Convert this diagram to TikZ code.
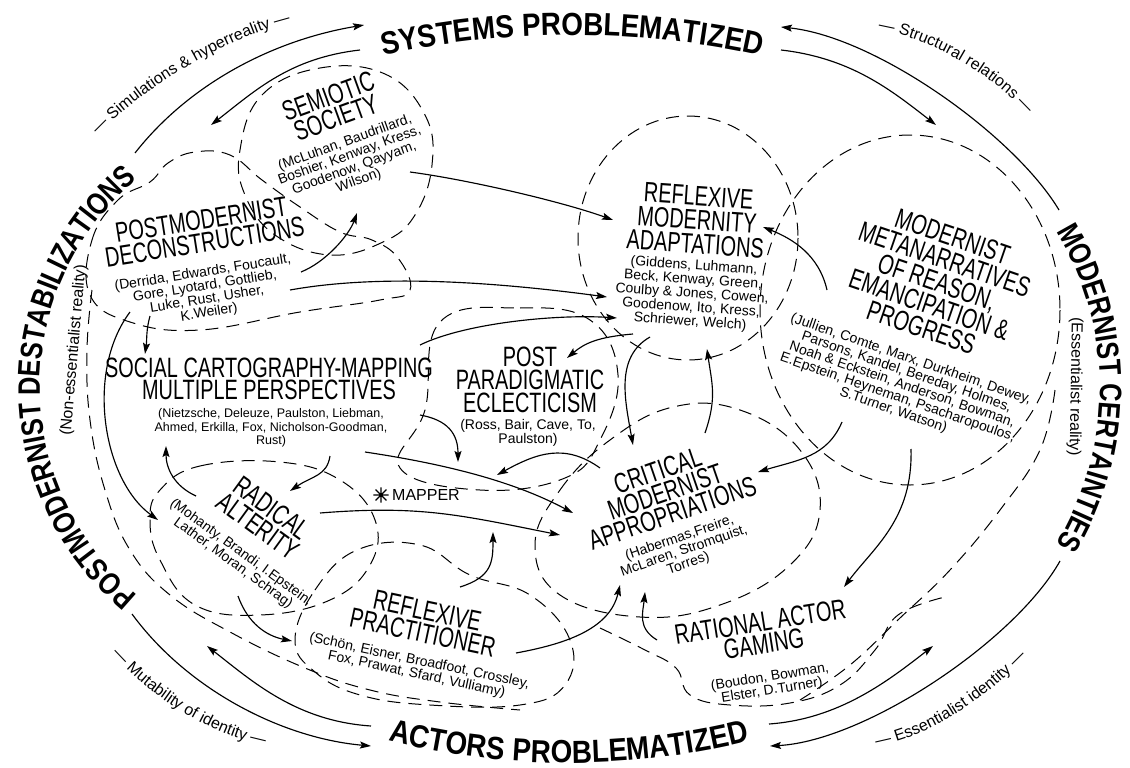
\documentclass[tikz,border=0pt]{standalone}
\usepackage{fontspec}
\setmainfont{Liberation Sans}
\newfontfamily\ringA[FakeStretch=0.87]{Liberation Sans}
\newfontfamily\ringB[FakeStretch=0.82]{Liberation Sans}
\newfontfamily\ttlfont[FakeStretch=0.71]{Liberation Sans}
\usetikzlibrary{decorations.text,arrows.meta}
\tikzset{
  ttl/.style={font=\ttlfont\fontsize{28}{22.5}\selectfont, align=center, inner sep=0pt},
  nms/.style={font=\fontsize{14}{13.5}\selectfont, align=center, inner sep=0pt},
  arr/.style={draw, line width=1.15pt, -{Stealth[length=11pt,width=7pt,inset=2pt]}},
  blob/.style={draw, line width=1pt, dash pattern=on 13pt off 8pt},
  ringtxt/.style={decorate, decoration={text along path, text align=center, text={#1}}}
}
\begin{document}
\begin{tikzpicture}[x=1pt,y=-1pt]
\useasboundingbox (0,0) rectangle (1130,768);

% ---------- big ring labels ----------
\path[ringtxt={|\ringA\bfseries\fontsize{32}{32}\selectfont|SYSTEMS PROBLEMATIZED}]
  (572,910) ++(245:875) arc[start angle=245, end angle=295, radius=875];
\path[ringtxt={|\ringA\bfseries\fontsize{32}{32}\selectfont|ACTORS PROBLEMATIZED}]
  (569,16) ++(115:747) arc[start angle=115, end angle=65, radius=747];
\path[ringtxt={|\ringB\bfseries\fontsize{31}{31}\selectfont|POSTMODERNIST DESTABILIZATIONS}]
  (310,387) ++(120:270) arc[start angle=120, end angle=240, radius=270];
\path[ringtxt={|\ringB\bfseries\fontsize{31}{31}\selectfont|MODERNIST CERTAINTIES}]
  (799,388) ++(-35:301) arc[start angle=-35, end angle=35, radius=301];

% ---------- small ring labels ----------
\coordinate (t1a) at (88,146);  \coordinate (t1b) at (305,19);
\coordinate (t2a) at (865,28);  \coordinate (t2b) at (1036,124);
\coordinate (t3a) at (102,642); \coordinate (t3b) at (280,748);
\coordinate (t4a) at (862,748); \coordinate (t4b) at (1036,646);
\path[ringtxt={|\fontsize{16}{16}\selectfont|— Simulations {\&} hyperreality —}]
  (t1a) .. controls +(45,-55) and +(-70,12) .. (t1b);
\path[ringtxt={|\fontsize{16}{16}\selectfont|— Structural relations —}]
  (t2a) .. controls +(60,4) and +(-35,-45) .. (t2b);
\path[ringtxt={|\fontsize{16}{16}\selectfont|— Mutability of identity —}]
  (t3a) .. controls +(45,55) and +(-65,-8) .. (t3b);
\path[ringtxt={|\fontsize{16}{16}\selectfont|— Essentialist identity —}]
  (t4a) .. controls +(65,-5) and +(-40,45) .. (t4b);

\node[font=\fontsize{16}{16}\selectfont, rotate=85, inner sep=0pt] (noness) at (74,350) {(Non-essentialist reality)};
\node[font=\fontsize{16}{16}\selectfont, rotate=-91, inner sep=0pt] (ess) at (1075,387) {(Essentialist reality)};

% ---------- ring arrows ----------
\coordinate (ulA) at (135,153); \coordinate (ulB) at (364,25);
\coordinate (ulC) at (360,50);  \coordinate (ulD) at (211,125);
\coordinate (urA) at (1059,210); \coordinate (urB) at (781,27);
\coordinate (urC) at (781,50);   \coordinate (urD) at (936,125);
\coordinate (llA) at (132,614); \coordinate (llB) at (371,746);
\coordinate (llC) at (371,726); \coordinate (llD) at (207,646);
\coordinate (lrA) at (1060,561); \coordinate (lrB) at (770,746);
\coordinate (lrC) at (769,724);  \coordinate (lrD) at (933,646);
\draw[arr] (ulA) .. controls +(55,-70) and +(-90,15) .. (ulB);
\draw[arr] (ulC) .. controls +(-70,8) and +(45,-35) .. (ulD);
\draw[arr] (urA) .. controls +(-45,-75) and +(95,10) .. (urB);
\draw[arr] (urC) .. controls +(70,8) and +(-45,-35) .. (urD);
\draw[arr] (llA) .. controls +(55,75) and +(-90,-8) .. (llB);
\draw[arr] (llC) .. controls +(-75,-5) and +(45,35) .. (llD);
\draw[arr] (lrA) .. controls +(-45,80) and +(95,-5) .. (lrB);
\draw[arr] (lrC) .. controls +(70,-5) and +(-45,35) .. (lrD);

% ---------- dashed regions ----------
\draw[blob] plot[smooth cycle, tension=0.7] coordinates {(240,150) (262,95) (320,68) (385,74) (425,115) (432,165) (415,215) (383,242) (330,255) (275,235) (245,195)};
\draw[blob] plot[smooth cycle, tension=0.7] coordinates {(90,295) (92,240) (118,200) (150,182) (168,163) (195,152) (230,155) (262,180) (300,207) (340,232) (372,240) (398,258) (410,290) (380,300) (300,312) (200,330) (130,322)};
\draw[blob] plot[smooth, tension=0.7] coordinates {(92,290) (87,350) (90,420) (105,490) (130,550) (170,595) (230,632) (305,668) (370,690) (440,702) (520,710)};
\draw[blob] (688,238) ellipse [x radius=110, y radius=122];
\draw[blob] (910,310) ellipse [x radius=150, y radius=175];
\draw[blob] plot[smooth, tension=0.7] coordinates {(1055,390) (1040,450) (1000,510) (950,570) (900,618) (850,665) (800,700)};
\draw[blob] plot[smooth cycle, tension=0.7] coordinates {(440,322) (520,308) (590,320) (618,375) (600,440) (565,478) (480,490) (400,468) (425,410)};
\draw[blob] plot[smooth cycle, tension=0.7] coordinates {(535,545) (560,490) (610,440) (673,407) (740,410) (800,450) (820,510) (790,565) (720,605) (640,617) (560,595)};
\draw[blob] plot[smooth cycle, tension=0.7] coordinates {(160,490) (200,466) (280,462) (340,480) (375,520) (370,565) (330,600) (260,615) (195,605) (160,560) (150,520)};
\draw[blob] plot[smooth cycle, tension=0.7] coordinates {(295,640) (315,590) (357,550) (420,545) (470,575) (530,595) (570,640) (565,685) (520,705) (430,705) (360,695) (315,672)};
\draw[blob] plot[smooth, tension=0.7] coordinates {(600,628) (645,650) (676,668) (690,695) (730,705) (790,703) (840,685) (875,650) (898,615) (945,597)};

% ---------- school nodes ----------
\node[ttl, rotate=20] (semT) at (332,107) {SEMIOTIC\\SOCIETY};
\node[nms, rotate=20] (semN) at (352,162) {(McLuhan, Baudrillard,\\Boshier, Kenway, Kress,\\Goodenow, Qayyam,\\Wilson)};
\node[ttl, rotate=9] (pmdT) at (203,231) {POSTMODERNIST\\DECONSTRUCTIONS};
\node[nms, rotate=9] (pmdN) at (206,293) {(Derrida, Edwards, Foucault,\\Gore, Lyotard, Gottlieb,\\Luke, Rust, Usher,\\K.Weiler)};
\node[ttl] (socT) at (269,379) {SOCIAL CARTOGRAPHY-MAPPING\\MULTIPLE PERSPECTIVES};
\node[nms, font=\fontsize{12.5}{13.5}\selectfont] (socN) at (271,428) {(Nietzsche, Deleuze, Paulston, Liebman,\\Ahmed, Erkilla, Fox, Nicholson-Goodman,\\Rust)};
\node[ttl, font=\ttlfont\fontsize{28}{23}\selectfont] (ppeT) at (530,380) {POST\\PARADIGMATIC\\ECLECTICISM};
\node[nms] (ppeN) at (528,433) {(Ross, Bair, Cave, To,\\Paulston)};
\node[ttl, rotate=-4, font=\ttlfont\fontsize{28}{24}\selectfont] (rmaT) at (697,220) {REFLEXIVE\\MODERNITY\\ADAPTATIONS};
\node[nms, rotate=-4, font=\fontsize{14}{14}\selectfont] (rmaN) at (692,294) {(Giddens, Luhmann,\\Beck, Kenway, Green,\\Coulby \& Jones, Cowen,\\Goodenow, Ito, Kress,\\Schriewer, Welch)};
\node[ttl, rotate=-19, font=\ttlfont\fontsize{28}{24}\selectfont] (mmnT) at (937,282) {MODERNIST\\METANARRATIVES\\OF REASON,\\EMANCIPATION \&\\PROGRESS};
\node[nms, rotate=-19] (mmnN) at (902,385) {(Jullien, Comte, Marx, Durkheim, Dewey,\\Parsons, Kandel, Bereday, Holmes,\\Noah \& Eckstein, Anderson, Bowman,\\E.Epstein, Heyneman, Psacharopoulos,\\S.Turner, Watson)};
\node[ttl, rotate=19] (cmaT) at (665,492) {CRITICAL\\MODERNIST\\APPROPRIATIONS};
\node[nms, rotate=19] (cmaN) at (684,551) {(Habermas,Freire,\\McLaren, Stromquist,\\Torres)};
\node[ttl, rotate=-36] (radT) at (265,517) {RADICAL\\ALTERITY};
\node[nms, rotate=-36] (radN) at (237,558) {(Mohanty, Brandi, I.Epstein,\\Lather, Moran, Schrag)};
\node[ttl, rotate=-12] (rprT) at (425,622) {REFLEXIVE\\PRACTITIONER};
\node[nms, rotate=-12] (rprN) at (418,668) {(Schön, Eisner, Broadfoot, Crossley,\\Fox, Prawat, Sfard, Vulliamy)};
\node[ttl, rotate=9] (ragT) at (762,633) {RATIONAL ACTOR\\GAMING};
\node[nms, rotate=9] (ragN) at (771,684) {(Boudon, Bowman,\\Elster, D.Turner)};

\node[font=\fontsize{16}{16}\selectfont, inner sep=0pt, anchor=west] (mapper) at (392,495) {MAPPER};
\node[circle, inner sep=0pt, minimum size=15pt] (star) at (381,495) {};
\draw[line width=1.1pt] (star.north) -- (star.south) (star.east) -- (star.west)
  (star.45) -- (star.225) (star.135) -- (star.315);

% ---------- connectors ----------
\coordinate (a1s) at (410,172); \coordinate (a1e) at (613,220);
\coordinate (a2s) at (301,272); \coordinate (a2e) at (357,213);
\coordinate (a3s) at (290,290); \coordinate (a3e) at (607,297);
\coordinate (a4s) at (420,345); \coordinate (a4e) at (617,318);
\coordinate (a5s) at (150,316); \coordinate (a5e) at (145,354);
\coordinate (a6s) at (130,312); \coordinate (a6e) at (158,520);
\coordinate (a7s) at (633,334); \coordinate (a7e) at (567,358);
\coordinate (a8s) at (650,337); \coordinate (a8e) at (633,445);
\coordinate (a9s) at (705,433); \coordinate (a9e) at (707,349);
\coordinate (a10s) at (827,290); \coordinate (a10e) at (763,227);
\coordinate (a11s) at (842,422); \coordinate (a11e) at (758,472);
\coordinate (a12s) at (911,449); \coordinate (a12e) at (844,587);
\coordinate (a13s) at (420,415); \coordinate (a13e) at (458,462);
\coordinate (a14s) at (600,468); \coordinate (a14e) at (497,475);
\coordinate (a15s) at (365,452); \coordinate (a15e) at (573,513);
\coordinate (a16s) at (320,513); \coordinate (a16e) at (560,535);
\coordinate (a17s) at (330,456); \coordinate (a17e) at (290,491);
\coordinate (a18s) at (196,496); \coordinate (a18e) at (166,446);
\coordinate (a19s) at (238,596); \coordinate (a19e) at (292,641);
\coordinate (a20s) at (460,587); \coordinate (a20e) at (493,532);
\coordinate (a21s) at (516,653); \coordinate (a21e) at (620,585);
\coordinate (a22s) at (657,640); \coordinate (a22e) at (645,592);

\draw[arr] (a1s) .. controls +(60,8) and +(-50,-18) .. (a1e);
\draw[arr] (a2s) .. controls +(25,-10) and +(-8,22) .. (a2e);
\draw[arr] (a3s) .. controls +(100,-18) and +(-90,-12) .. (a3e);
\draw[arr] (a4s) .. controls +(45,-22) and +(-60,-4) .. (a4e);
\draw[arr] (a5s) .. controls +(-4,14) and +(2,-14) .. (a5e);
\draw[arr] (a6s) .. controls +(-45,60) and +(-55,-40) .. (a6e);
\draw[arr] (a7s) .. controls +(-35,3) and +(18,-15) .. (a7e);
\draw[arr] (a8s) .. controls +(-35,20) and +(-8,-45) .. (a8e);
\draw[arr] (a9s) .. controls +(12,-35) and +(5,35) .. (a9e);
\draw[arr] (a10s) .. controls +(-8,-35) and +(30,12) .. (a10e);
\draw[arr] (a11s) .. controls +(-15,35) and +(40,-12) .. (a11e);
\draw[arr] (a12s) .. controls +(2,70) and +(30,-40) .. (a12e);
\draw[arr] (a13s) .. controls +(28,5) and +(0,-28) .. (a13e);
\draw[arr] (a14s) .. controls +(-35,-25) and +(40,-22) .. (a14e);
\draw[arr] (a15s) .. controls +(80,12) and +(-60,-32) .. (a15e);
\draw[arr] (a16s) .. controls +(100,-8) and +(-100,-20) .. (a16e);
\draw[arr] (a17s) .. controls +(-3,20) and +(22,-15) .. (a17e);
\draw[arr] (a18s) .. controls +(-22,-10) and +(0,22) .. (a18e);
\draw[arr] (a19s) .. controls +(10,28) and +(-25,-5) .. (a19e);
\draw[arr] (a20s) .. controls +(32,-10) and +(0,30) .. (a20e);
\draw[arr] (a21s) .. controls +(55,-10) and +(-10,42) .. (a21e);
\draw[arr] (a22s) .. controls +(-20,-12) and +(-2,20) .. (a22e);
\end{tikzpicture}
\end{document}
